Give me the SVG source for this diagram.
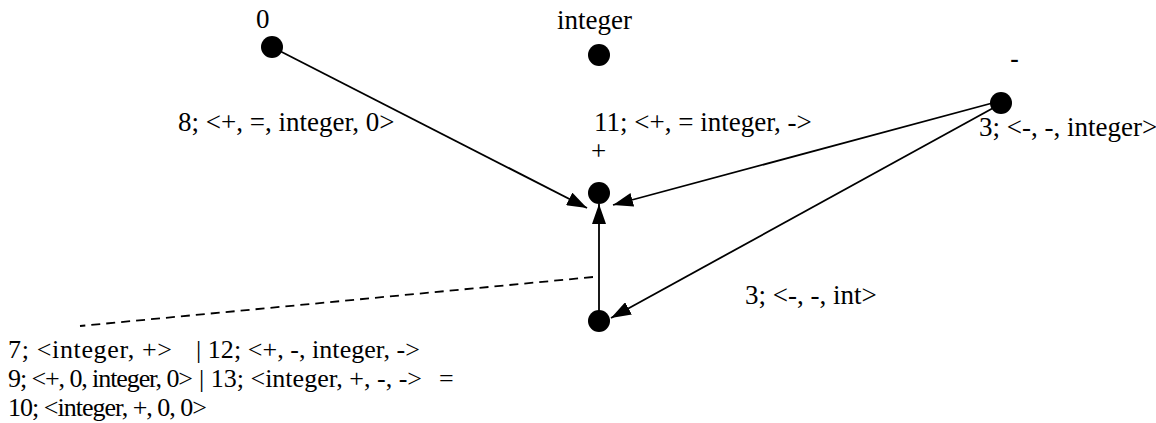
<svg xmlns="http://www.w3.org/2000/svg" width="1156" height="423" viewBox="0 0 1156 423">
<style>
text{font-family:'Liberation Serif','Times New Roman',Times,serif;font-size:27px;fill:#000}
.b{font-size:26px}
.n{fill:#000}
.e{stroke:#000;stroke-width:1.8;fill:none}
.d{stroke:#000;stroke-width:1.8;fill:none;stroke-dasharray:9,6}
</style>
<defs>
<marker id="ah" viewBox="0 0 20 14" refX="20" refY="7" markerWidth="20" markerHeight="14" markerUnits="userSpaceOnUse" orient="auto">
<path d="M0,0 L20,7 L0,14 Z" fill="#000"/>
</marker>
</defs>
<rect width="1156" height="423" fill="#fff"/>
<g id="connectors" font-family="'Liberation Serif','Times New Roman',Times,serif">
<line class="e" x1="1000" y1="101" x2="613" y2="205" marker-end="url(#ah)"/>
<line class="e" x1="272" y1="47" x2="587" y2="208" marker-end="url(#ah)"/>
<line class="e" x1="995" y1="107" x2="611" y2="318" marker-end="url(#ah)"/>
<line class="e" x1="599" y1="321" x2="599" y2="204" marker-end="url(#ah)"/>
<line class="d" x1="593" y1="277" x2="80" y2="326"/>
<text x="178" y="131">8; &lt;+, =, integer, 0&gt;</text>
<text x="594" y="131">11; &lt;+, = integer, -&gt;</text>
<text x="979" y="136" font-size="26.5">3; &lt;-, -, integer&gt;</text>
<text x="745" y="304">3; &lt;-, -, int&gt;</text>
</g>
<g id="node-0" font-family="'Liberation Serif','Times New Roman',Times,serif">
<circle class="n" cx="272" cy="47" r="11"/>
<text x="256" y="28">0</text>
</g>
<g id="node-integer" font-family="'Liberation Serif','Times New Roman',Times,serif">
<circle class="n" cx="599" cy="55" r="11"/>
<text x="557" y="29">integer</text>
</g>
<g id="node-minus">
<circle class="n" cx="1001" cy="103" r="11"/>
<text x="1010" y="68" style="font-family:'Liberation Sans',Arial,sans-serif">-</text>
</g>
<g id="node-plus" font-family="'Liberation Serif','Times New Roman',Times,serif">
<circle class="n" cx="599" cy="193" r="11"/>
<text x="591" y="160">+</text>
</g>
<g id="node-bottom">
<circle class="n" cx="599" cy="321" r="11"/>
</g>
<g id="legend" font-family="'Liberation Serif','Times New Roman',Times,serif">
<text class="b" x="8" y="358" textLength="164" lengthAdjust="spacing">7; &lt;integer, +&gt;</text>
<text class="b" x="196" y="358" textLength="224" lengthAdjust="spacing">| 12; &lt;+, -, integer, -&gt;</text>
<text class="b" x="8" y="387" textLength="185" lengthAdjust="spacing">9; &lt;+, 0, integer, 0&gt;</text>
<text class="b" x="199" y="387" textLength="223" lengthAdjust="spacing">| 13; &lt;integer, +, -, -&gt;</text>
<text class="b" x="439" y="387">=</text>
<text class="b" x="8" y="416" textLength="199" lengthAdjust="spacing">10; &lt;integer, +, 0, 0&gt;</text>
</g>
</svg>
